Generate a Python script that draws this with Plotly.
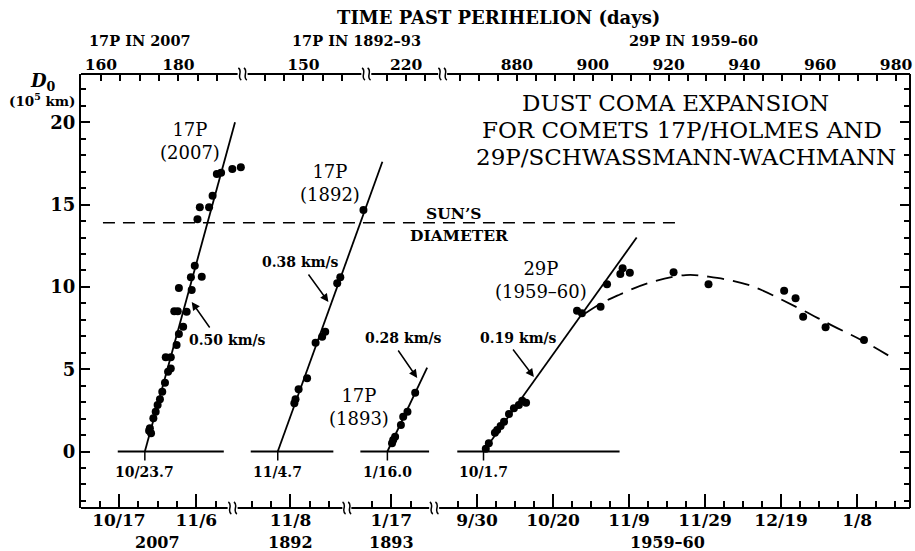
import plotly.graph_objects as go

# ---------------- data (D0 in 10^5 km) ----------------
SUN_DIAMETER = 13.9

# 17P in 2007 : x = days after 2007 Oct 17
A_DAYS = [31.5, 29.3, 26.4, 25.3, 24.2, 23.3, 20.9, 20.3, 19.6, 18.6, 21.4, 15.5, 18.8, 14.3, 15.2, 17.5,
          16.6, 15.5, 14.9, 12.1, 13.4, 13.4, 12.7, 11.9, 11.2, 10.6, 10.0, 9.5, 8.9, 8.0, 8.3, 7.8]
A_D0 = [17.27, 17.16, 16.94, 16.86, 15.54, 14.84, 14.84, 14.11, 11.29, 10.58, 10.62, 9.93, 9.81, 8.52, 8.52, 8.49,
        7.58, 7.14, 6.47, 5.72, 5.72, 5.05, 4.85, 4.18, 3.63, 3.17, 2.83, 2.42, 2.02, 1.41, 1.11, 1.26]
A_FIT_DAYS = [6.7, 30.0]
A_FIT_D0 = [0.0, 20.0]
A_BASE_DAYS = [-0.3, 27.1]
A_ONSET = 6.7
A_ONSET_LABEL = "10/23.7"

# 17P in 1892 : x = days after 1892 Nov 8
B_DAYS = [18.9, 12.9, 12.1, 9.0, 8.2, 6.5, 4.3, 2.1, 1.3, 1.0]
B_D0 = [14.67, 10.58, 10.22, 7.28, 6.97, 6.61, 4.45, 3.78, 3.17, 2.93]
B_FIT_DAYS = [-3.3, 23.8]
B_FIT_D0 = [0.0, 17.6]
B_BASE_DAYS = [-10.3, 11.1]
B_ONSET = -3.3
B_ONSET_LABEL = "11/4.7"

# 17P in 1893 : x = days after 1893 Jan 17
C_DAYS = [6.2, 4.2, 3.1, 2.5, 1.0, 0.5, 0.2]
C_D0 = [3.57, 2.42, 2.11, 1.61, 0.90, 0.70, 0.50]
C_FIT_DAYS = [-1.0, 9.3]
C_FIT_D0 = [0.0, 5.1]
C_BASE_DAYS = [-8.0, 9.8]
C_ONSET = -1.0
C_ONSET_LABEL = "1/16.0"

# 29P in 1959-60 : x = days after 1959 Sep 30
D_DAYS = [2.3, 3.1, 4.7, 5.3, 6.2, 7.1, 8.4, 9.7, 11.0, 11.9, 12.9,
          26.3, 27.6, 32.5, 34.2, 37.7, 38.3, 40.2,
          51.7, 60.9, 80.8, 83.8, 85.8, 91.7, 101.8]
D_D0 = [0.17, 0.50, 1.14, 1.31, 1.55, 1.81, 2.28, 2.62, 2.83, 3.09, 2.96,
        8.55, 8.40, 8.80, 10.16, 10.78, 11.13, 10.86,
        10.89, 10.16, 9.77, 9.31, 8.19, 7.55, 6.77]
D_FIT_DAYS = [1.7, 42.0]
D_FIT_D0 = [0.0, 13.0]
D_BASE_DAYS = [-5.2, 37.5]
D_ONSET = 1.7
D_ONSET_LABEL = "10/1.7"
D_CURVE_DAYS = [28.5, 32.8, 37.3, 45.1, 54.9, 60.9, 71.4, 84.5, 93.2, 102.1, 108.9]
D_CURVE_D0 = [8.40, 9.02, 9.51, 10.24, 10.72, 10.62, 10.12, 8.72, 7.68, 6.65, 5.74]

# bottom (date) ticks, in each panel's day units
A_TICKS = [0, 20]
A_TICK_LABELS = ["10/17", "11/6"]
A_MINOR = [-5, 5, 10, 15, 25]
B_TICKS = [0]
B_TICK_LABELS = ["11/8"]
B_MINOR = [-10, -5, 5, 10]
C_TICKS = [0]
C_TICK_LABELS = ["1/17"]
C_MINOR = [-5, 5]
D_TICKS = [0, 20, 40, 60, 80, 100]
D_TICK_LABELS = ["9/30", "10/20", "11/9", "11/29", "12/19", "1/8"]
D_MINOR = [-5, 5, 10, 15, 25, 30, 35, 45, 50, 55, 65, 70, 75, 85, 90, 95, 105, 110]

# top ticks: days past perihelion
A_TOP_TICKS = [160, 165, 170, 175, 180, 185, 190]
A_TOP_LABELS = ["160", "", "", "", "180", "", ""]
B_TOP_TICKS = [140, 145, 150, 155, 160]
B_TOP_LABELS = ["", "", "150", "", ""]
C_TOP_TICKS = [215, 220, 225]
C_TOP_LABELS = ["", "220", ""]
D_TOP_TICKS = [865 + 5 * i for i in range(24)]
D_TOP_LABELS = [str(v) if (v - 880) % 20 == 0 and v >= 880 else "" for v in D_TOP_TICKS]

YEAR_LABELS = ["2007", "1892", "1893", "1959\u201360"]
YEAR_AT = [10, 0, 0, 50]

# ---------------- geometry ----------------
W, H = 915, 551
L, R, T, B = 81, 3, 74, 43
PW, PH = W - L - R, H - T - B
FONT = "DejaVu Serif"


def fx(px):
    return (px - L) / PW


def fy(py):
    return (H - B - py) / PH


Y0_PX, Y_PER = 451.5, 16.46
Y_RANGE = [(Y0_PX - (H - B)) / Y_PER, (Y0_PX - T) / Y_PER]

# (domain px start, end, px of day 0, px per day)
BOTTOM_GEOM = [(81, 245, 119, 3.88), (238, 388, 291, 3.87), (352, 432, 392, 3.87), (438, 912, 478, 3.81)]
# (domain px start, end, px of ref value, ref value, px per day)
TOP_GEOM = [(81, 238, 101, 160, 3.88), (248, 362, 304, 150, 3.85), (372, 439, 407, 220, 3.85), (448, 912, 518, 880, 3.80)]

fig = go.Figure()
panels = [
    (A_DAYS, A_D0, A_FIT_DAYS, A_FIT_D0, A_BASE_DAYS, A_ONSET, A_ONSET_LABEL, A_TICKS, A_TICK_LABELS, A_MINOR),
    (B_DAYS, B_D0, B_FIT_DAYS, B_FIT_D0, B_BASE_DAYS, B_ONSET, B_ONSET_LABEL, B_TICKS, B_TICK_LABELS, B_MINOR),
    (C_DAYS, C_D0, C_FIT_DAYS, C_FIT_D0, C_BASE_DAYS, C_ONSET, C_ONSET_LABEL, C_TICKS, C_TICK_LABELS, C_MINOR),
    (D_DAYS, D_D0, D_FIT_DAYS, D_FIT_D0, D_BASE_DAYS, D_ONSET, D_ONSET_LABEL, D_TICKS, D_TICK_LABELS, D_MINOR),
]
tops = [(A_TOP_TICKS, A_TOP_LABELS), (B_TOP_TICKS, B_TOP_LABELS), (C_TOP_TICKS, C_TOP_LABELS), (D_TOP_TICKS, D_TOP_LABELS)]

annotations = []
layout_axes = {}
line_style = dict(color="black", width=1.8)

for i, (dx, dy, fxd, fyd, base, onset, onset_lbl, tv, tt, mv) in enumerate(panels):
    xa = "x" if i == 0 else f"x{i + 1}"
    fig.add_trace(go.Scatter(x=base, y=[0, 0], xaxis=xa, yaxis="y", mode="lines", line=line_style,
                             hoverinfo="skip", showlegend=False))
    fig.add_trace(go.Scatter(x=[onset, onset], y=[0, -0.55], xaxis=xa, yaxis="y", mode="lines",
                             line=dict(color="black", width=1.5), hoverinfo="skip", showlegend=False))
    fig.add_trace(go.Scatter(x=fxd, y=fyd, xaxis=xa, yaxis="y", mode="lines", line=line_style,
                             showlegend=False))
    fig.add_trace(go.Scatter(x=dx, y=dy, xaxis=xa, yaxis="y", mode="markers", cliponaxis=False,
                             marker=dict(color="black", size=8), showlegend=False))
    annotations.append(dict(text=f"<b>{onset_lbl}</b>", x=onset, y=-1.25, xref=xa, yref="y",
                            yanchor="middle", showarrow=False, font=dict(family=FONT, size=14, color="black")))
    annotations.append(dict(text=f"<b>{YEAR_LABELS[i]}</b>", x=YEAR_AT[i], y=fy(542), xref=xa, yref="paper",
                            yanchor="middle", showarrow=False, font=dict(family=FONT, size=16, color="black")))
    d0, d1, ref, s = BOTTOM_GEOM[i]
    key = "xaxis" if i == 0 else f"xaxis{i + 1}"
    layout_axes[key] = dict(
        domain=[fx(d0), fx(d1)], range=[(d0 - ref) / s, (d1 - ref) / s], anchor="y",
        showline=False, showgrid=False, zeroline=False,
        tickmode="array", tickvals=tv, ticktext=[f"<b>{t}</b>" for t in tt],
        ticks="inside", ticklen=14, tickwidth=1.5, tickcolor="black",
        tickfont=dict(family=FONT, size=17, color="black"),
        minor=dict(tickmode="array", tickvals=mv, ticks="inside", ticklen=7, tickwidth=1.5, tickcolor="black"),
    )
    t0, t1, tref, tval, ts = TOP_GEOM[i]
    tkey = f"xaxis{i + 5}"
    txa = f"x{i + 5}"
    ttv, ttt = tops[i]
    layout_axes[tkey] = dict(
        domain=[fx(t0), fx(t1)], range=[tval + (t0 - tref) / ts, tval + (t1 - tref) / ts],
        anchor="y", side="top", showline=False, showgrid=False, zeroline=False,
        tickmode="array", tickvals=ttv, ticktext=[f"<b>{t}</b>" if t else "" for t in ttt],
        ticks="inside", ticklen=7, tickwidth=1.5, tickcolor="black",
        tickfont=dict(family=FONT, size=15.5, color="black"),
    )
    fig.add_trace(go.Scatter(x=[None], y=[None], xaxis=txa, yaxis="y", mode="markers",
                             hoverinfo="skip", showlegend=False))

# 29P dashed turnover curve
fig.add_trace(go.Scatter(x=D_CURVE_DAYS, y=D_CURVE_D0, xaxis="x4", yaxis="y", mode="lines",
                         line=dict(color="black", width=1.8, dash="17px,9px", shape="spline"),
                         showlegend=False))
fig.add_trace(go.Scatter(x=[None], y=[None], xaxis="x4", yaxis="y2", mode="markers",
                         hoverinfo="skip", showlegend=False))

shapes = []
shapes.append(dict(type="line", xref="paper", yref="y", x0=fx(103), x1=fx(682), y0=SUN_DIAMETER, y1=SUN_DIAMETER,
                   line=dict(color="black", width=1.5, dash="12px,8px")))
for (a, b_) in [(81, 238), (248, 362), (372, 439), (448, 912)]:
    shapes.append(dict(type="line", xref="paper", yref="paper", x0=fx(a), x1=fx(b_), y0=1, y1=1,
                       line=dict(color="black", width=2)))
for (a, b_) in [(81, 228), (238, 343), (352, 430), (440, 912)]:
    shapes.append(dict(type="line", xref="paper", yref="paper", x0=fx(a), x1=fx(b_), y0=0, y1=0,
                       line=dict(color="black", width=2)))


def brk(cx, cy):
    for ddx in (-2.8, 2.8):
        x = cx + ddx
        path = (f"M {fx(x - 1.5)},{fy(cy - 6)} C {fx(x + 3.5)},{fy(cy - 3)} "
                f"{fx(x - 3.5)},{fy(cy + 3)} {fx(x + 1.5)},{fy(cy + 6)}")
        shapes.append(dict(type="path", path=path, xref="paper", yref="paper",
                           line=dict(color="black", width=1.5)))


for c in (243, 367, 443.5):
    brk(c, 74)
for c in (233, 347.5, 435):
    brk(c, 508)


def txt(t, px, py, size, bold=True, **kw):
    annotations.append(dict(text=(f"<b>{t}</b>" if bold else t), x=fx(px), y=fy(py), xref="paper", yref="paper",
                            showarrow=False, xanchor="center", yanchor="middle",
                            font=dict(family=FONT, size=size, color="black"), **kw))


def arrow(tip, tail):
    annotations.append(dict(text="", x=fx(tip[0]), y=fy(tip[1]), xref="paper", yref="paper",
                            ax=tail[0] - tip[0], ay=tail[1] - tip[1], showarrow=True,
                            arrowhead=2, arrowsize=1.1, arrowwidth=1.5, arrowcolor="black"))


txt("TIME PAST PERIHELION (days)", 500, 18, 18)
txt("17P IN 2007", 140, 40, 14.5)
txt("17P IN 1892\u201393", 357, 40, 14.5)
txt("29P IN 1959\u201360", 695, 40, 14.5)
txt("<i>D</i><sub>0</sub>", 43, 82, 18)
txt("(10<sup>5</sup> km)", 42, 100, 13.5)
txt("DUST COMA EXPANSION", 677, 103, 23, bold=False)
txt("FOR COMETS 17P/HOLMES AND", 683, 130, 23, bold=False)
txt("29P/SCHWASSMANN-WACHMANN", 687, 157, 23, bold=False)
txt("17P<br>(2007)", 190, 141, 18, bold=False)
txt("17P<br>(1892)", 331, 183, 18, bold=False)
txt("17P<br>(1893)", 360, 407, 18, bold=False)
txt("29P<br>(1959\u201360)", 542, 280, 18, bold=False)
txt("SUN\u2019S", 454, 213, 15.5)
txt("DIAMETER", 460, 235, 15.5)
txt("0.50 km/s", 228, 340, 14)
txt("0.38 km/s", 301, 262, 14)
txt("0.28 km/s", 404, 338, 14)
txt("0.19 km/s", 520, 338, 14)
arrow((192, 302), (211, 329))
arrow((329, 302), (308, 273))
arrow((418, 378), (398, 349))
arrow((535, 377), (513, 348))

fig.update_layout(
    width=W, height=H, margin=dict(l=L, r=R, t=T, b=B, pad=0),
    paper_bgcolor="white", plot_bgcolor="rgba(0,0,0,0)",
    showlegend=False,
    yaxis=dict(range=Y_RANGE, anchor="x", showline=True, linewidth=2, linecolor="black",
               showgrid=False, zeroline=False, tickmode="linear", tick0=0, dtick=5,
               ticks="inside", ticklen=9, tickwidth=1.5, tickcolor="black",
               tickfont=dict(family=FONT, size=18, color="black", weight="bold"),
               minor=dict(tick0=0, dtick=1, ticks="inside", ticklen=5, tickwidth=1.5, tickcolor="black")),
    yaxis2=dict(range=Y_RANGE, overlaying="y", side="right", anchor="free", position=1,
                showline=True, linewidth=2, linecolor="black", showgrid=False, zeroline=False,
                tickmode="linear", tick0=0, dtick=5, ticks="inside", ticklen=9, tickwidth=1.5,
                tickcolor="black", showticklabels=False,
                minor=dict(tick0=0, dtick=1, ticks="inside", ticklen=5, tickwidth=1.5, tickcolor="black")),
    annotations=annotations, shapes=shapes,
    **layout_axes,
)

fig.write_html("out.html")
